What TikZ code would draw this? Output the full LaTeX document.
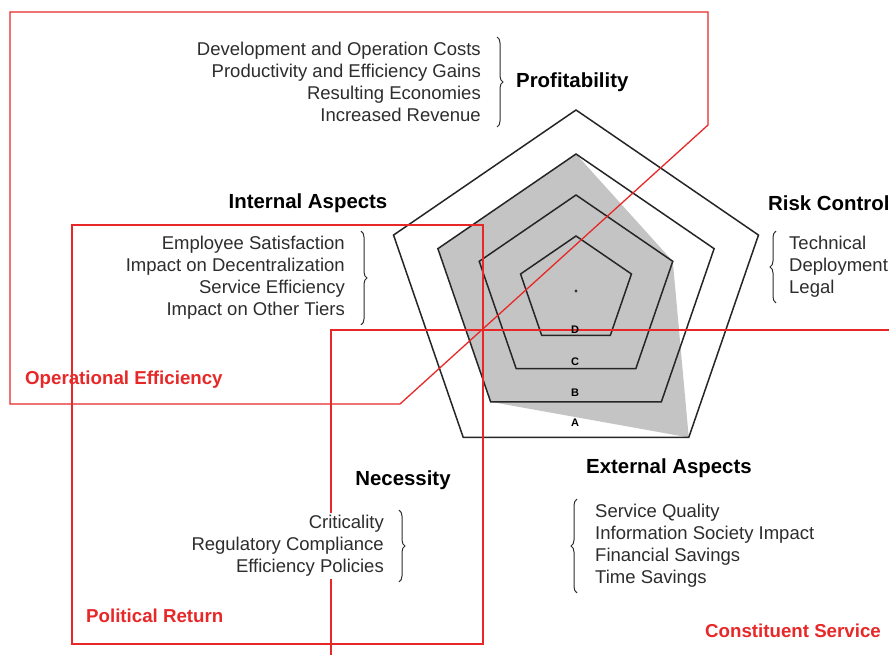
\documentclass[tikz,border=0pt]{standalone}
\usepackage{fontspec}
\setmainfont{Liberation Sans}
\usetikzlibrary{positioning, decorations.pathreplacing}
\definecolor{regionred}{RGB}{232,40,40}
\definecolor{textgray}{RGB}{45,45,45}
\definecolor{areagray}{RGB}{196,196,196}
\tikzset{
  itemlist/.style={inner sep=0pt, text=textgray, font=\fontsize{18.5}{22}\selectfont},
  heading/.style={inner sep=0pt, font=\bfseries\fontsize{20.4}{24}\selectfont},
  region/.style={draw=regionred, line width=1.3pt},
  regionlabel/.style={inner sep=0pt, anchor=west, text=regionred, font=\bfseries\fontsize{18.7}{22}\selectfont},
  ring/.style={draw=black!85, line width=1.5pt, line join=miter},
  levelmark/.style={inner sep=0pt, font=\bfseries\fontsize{11}{12}\selectfont},
  curly/.style={decorate, decoration={brace, amplitude=6pt}, draw=textgray, line width=1pt}
}
\begin{document}
\begin{tikzpicture}[x=1pt, y=1pt, node distance=35pt]
  \path[use as bounding box, fill=white] (0,0) rectangle (889,-655);

  % radar chart
  \begin{scope}[shift={(576,-291)}]
    \fill[areagray] (90:{1.06*137} and 137) -- (18:{1.06*96} and 96) -- (-54:{1.06*181} and 181)
      -- (-126:{1.06*137} and 137) -- (162:{1.06*137} and 137) -- cycle;
    \foreach \r in {181,137,96,55}
      \draw[ring] (90:{1.06*\r} and \r) \foreach \a in {162,234,306,18} {-- (\a:{1.06*\r} and \r)} -- cycle;
    \coordinate (centre) at (0,0);
    \fill[black!80] (centre) circle (1.6pt);
  \end{scope}

  % regions
  \draw[region] (10,-12) -- (708,-12) -- (708,-125) -- (400,-404) -- (10,-404) -- cycle;
  \draw[region] (72,-225) rectangle (483,-644);
  \draw[region] (331,-655) -- (331,-330) -- (889,-330);
  \node[regionlabel] (opeff) at (25,-380) {Operational Efficiency};
  \node[regionlabel] (polret) at (86,-616) {Political Return};
  \node[regionlabel] (constserv) at (705,-631) {Constituent Service};

  % levels
  \node[levelmark] (levD) at (575,-330) {D};
  \node[levelmark] (levC) at (575,-362) {C};
  \node[levelmark] (levB) at (575,-393) {B};
  \node[levelmark] (levA) at (575,-423) {A};

  % criteria
  \node[itemlist, align=right, anchor=east] (proflist) at (481,-82)
    {Development and Operation Costs\\Productivity and Efficiency Gains\\Resulting Economies\\Increased Revenue};
  \node[heading, right=of proflist] (profit) {Profitability};
  \draw[curly] ([xshift=16pt,yshift=5pt]proflist.north east) -- ([xshift=16pt,yshift=-5pt]proflist.south east);

  \node[heading] (internal) at (308,-203) {Internal Aspects};
  \node[itemlist, align=right, anchor=east] (intlist) at (345,-278)
    {Employee Satisfaction\\Impact on Decentralization\\Service Efficiency\\Impact on Other Tiers};
  \draw[curly] ([xshift=16pt,yshift=5pt]intlist.north east) -- ([xshift=16pt,yshift=-5pt]intlist.south east);

  \node[heading, anchor=west] (risk) at (768,-203) {Risk Control};
  \node[itemlist, align=left, anchor=west] (risklist) at (789,-267) {Technical\\Deployment\\Legal};
  \draw[curly] ([xshift=-13pt,yshift=-5pt]risklist.south west) -- ([xshift=-13pt,yshift=5pt]risklist.north west);

  \node[heading] (necessity) at (403,-480) {Necessity};
  \node[itemlist, align=right, anchor=east, fill=white, inner sep=2pt] (neclist) at (386,-546)
    {Criticality\\Regulatory Compliance\\Efficiency Policies};
  \draw[curly] ([xshift=13pt,yshift=3pt]neclist.north east) -- ([xshift=13pt,yshift=-3pt]neclist.south east);

  \node[heading, anchor=west] (external) at (586,-468) {External Aspects};
  \node[itemlist, align=left, anchor=west] (extlist) at (595,-546)
    {Service Quality\\Information Society Impact\\Financial Savings\\Time Savings};
  \draw[curly] ([xshift=-18pt,yshift=-5pt]extlist.south west) -- ([xshift=-18pt,yshift=5pt]extlist.north west);
\end{tikzpicture}
\end{document}
